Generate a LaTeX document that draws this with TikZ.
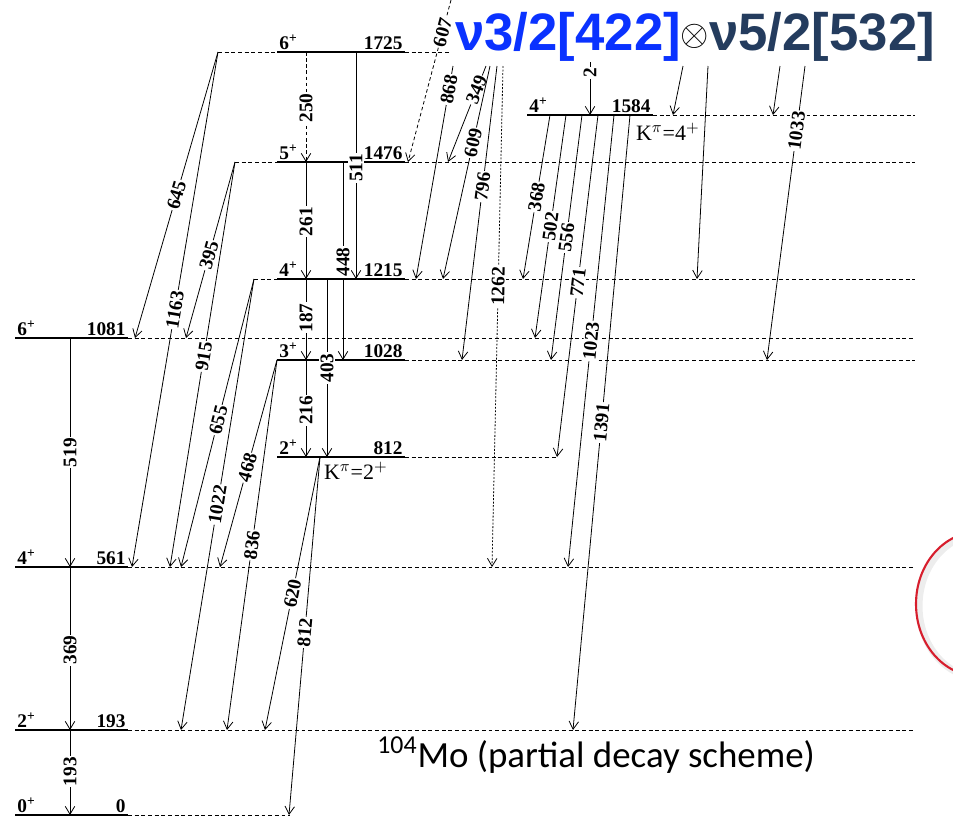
\documentclass[tikz,border=0pt]{standalone}
\usepackage{fontspec}
\setmainfont{Liberation Serif}
\newfontfamily\titlefont{Liberation Sans}
\newfontfamily\capfont{Carlito}
\usetikzlibrary{arrows.meta}
\definecolor{titleblue}{RGB}{10,50,255}
\definecolor{titlenavy}{RGB}{36,60,94}
\definecolor{ringred}{RGB}{215,30,45}

\begin{document}
\begin{tikzpicture}[
    x=0.02cm, y=-0.02cm,
    font=\fontsize{11}{13}\selectfont\bfseries,
    lvl/.style={line width=0.65pt},
    lvldash/.style={line width=0.5pt, dash pattern=on 2.2pt off 1.6pt},
    gam/.style={line width=0.45pt, -{Straight Barb[length=4.5pt,width=5.4pt]}},
    gdash/.style={dash pattern=on 2pt off 1.5pt},
    gdot/.style={dash pattern=on 1.1pt off 0.9pt},
    spin/.style={anchor=south west, inner sep=1.2pt},
    energy/.style={anchor=south east, inner sep=1.2pt},
    glbl/.style={fill=white, inner sep=0.6pt},
    vlab/.style={rotate=90},
    slab/.style={sloped},
    kband/.style={anchor=north west, inner sep=1pt, font=\fontsize{12.5}{14}\selectfont\mdseries}
]
\useasboundingbox (0,0) rectangle (953,819);

% levels: name / y / dashed start / solid start / solid end / dashed end / spin
\foreach \e/\y/\xa/\xb/\xc/\xd/\spin in {0/815/15/15/128/290/0, 193/730/15/15/128/915/2,
    561/567/15/15/128/915/4, 1081/338/15/15/128/915/6, 812/457/277/277/405/557/2,
    1028/360/277/277/405/915/3, 1215/279/254/277/405/915/4, 1476/162/235/277/405/915/5,
    1725/52/218/277/405/450/6, 1584/115/527/527/653/915/4} {
  \coordinate (s\e) at (\xa,\y);
  \coordinate (a\e) at (\xb,\y);
  \coordinate (b\e) at (\xc,\y);
  \coordinate (e\e) at (\xd,\y);
  \draw[lvldash] (s\e) -- (a\e);
  \draw[lvl] (a\e) -- (b\e);
  \draw[lvldash] (b\e) -- (e\e);
}
\draw[line width=1.2pt] (a0) -- (b0);

% gamma transitions
\foreach \g/\xa/\ya/\xb/\yb/\p/\ls/\ts in {
    519/70/338/70/567/.50/solid/vlab, 369/70/567/70/730/.51/solid/vlab,
    193/70/730/70/815/.49/solid/vlab, 250/306/52/306/162/.51/gdash/vlab,
    261/306/162/306/279/.51/solid/vlab, 187/306/279/306/360/.48/solid/vlab,
    216/306/360/306/457/.52/solid/vlab, 511/356/52/356/279/.51/solid/vlab,
    448/343/162/343/360/.505/solid/vlab, 403/327/279/327/457/.50/solid/vlab,
    2/590/62/590/115/.21/solid/vlab,
    645/218/52/135/338/.50/solid/slab, 1163/218/52/132/567/.50/solid/slab,
    395/235/162/186/338/.53/solid/slab, 915/235/162/170/567/.48/solid/slab,
    655/254/279/181/567/.49/solid/slab, 1022/254/279/181/730/.50/solid/slab,
    468/277/360/220/567/.52/solid/slab, 836/277/360/227/730/.50/solid/slab,
    620/320/457/265/730/.50/solid/slab, 812/320/457/289/815/.49/solid/slab,
    607/451/0/408/162/.20/gdash/slab, 868/453/66/416/279/.11/solid/slab,
    349/486/66/448/162/.25/solid/slab, 609/490/66/443/279/.36/solid/slab,
    796/497/66/462/360/.41/solid/slab, 1262/503/66/492/567/.44/gdot/slab,
    368/550/115/523/279/.50/solid/slab, 502/566/115/535/338/.50/solid/slab,
    556/582/115/551/360/.50/solid/slab, 771/598/115/557/457/.49/solid/slab,
    1023/614/115/568/567/.50/solid/slab, 1391/630/115/573/730/.50/solid/slab,
    1033/805/66/767/360/.22/solid/slab} {
  \coordinate (g\g a) at (\xa,\ya);
  \coordinate (g\g b) at (\xb,\yb);
  \draw[gam,\ls] (g\g a) -- node[glbl,\ts,pos=\p] (l\g) {\g} (g\g b);
}
\foreach \u/\xa/\ya/\xb/\yb in {u1/683/66/673/115, u2/708/66/697/279, u3/780/66/773/115} {
  \coordinate (\u a) at (\xa,\ya);
  \coordinate (\u b) at (\xb,\yb);
  \draw[gam] (\u a) -- (\u b);
}

% spins and energies
\foreach \e/\spin in {0/0, 193/2, 561/4, 1081/6, 812/2, 1028/3, 1215/4, 1476/5, 1725/6, 1584/4} {
  \node[spin] (j\e) at (a\e) {\spin\textsuperscript{+}};
  \node[energy] (n\e) at (b\e) {\e};
}
\node[kband] (k2) at (322,460) {K$^{\pi}$=2$^{+}$};
\node[kband] (k4) at (634,121) {K$^{\pi}$=4$^{+}$};

\node[anchor=base west, inner sep=0pt, font=\capfont\fontsize{21}{25}\selectfont\mdseries] (caption)
  at (377,767) {\textsuperscript{104}Mo (partial decay scheme)};
\node[anchor=base west, inner sep=0pt, font=\titlefont\fontsize{30}{34}\selectfont\bfseries] (config)
  at (455,50) {\textcolor{titleblue}{ν3/2[422]}{\fontsize{19.6}{20}\selectfont\raisebox{2.3pt}{$\otimes$}}\textcolor{titlenavy}{ν5/2[532]}};

% red ring at the edge
\draw[black!7, line width=4pt] (981,606) ellipse [x radius=62, y radius=72];
\draw[ringred, line width=1.2pt] (978,604) ellipse [x radius=62, y radius=72];
\end{tikzpicture}
\end{document}
